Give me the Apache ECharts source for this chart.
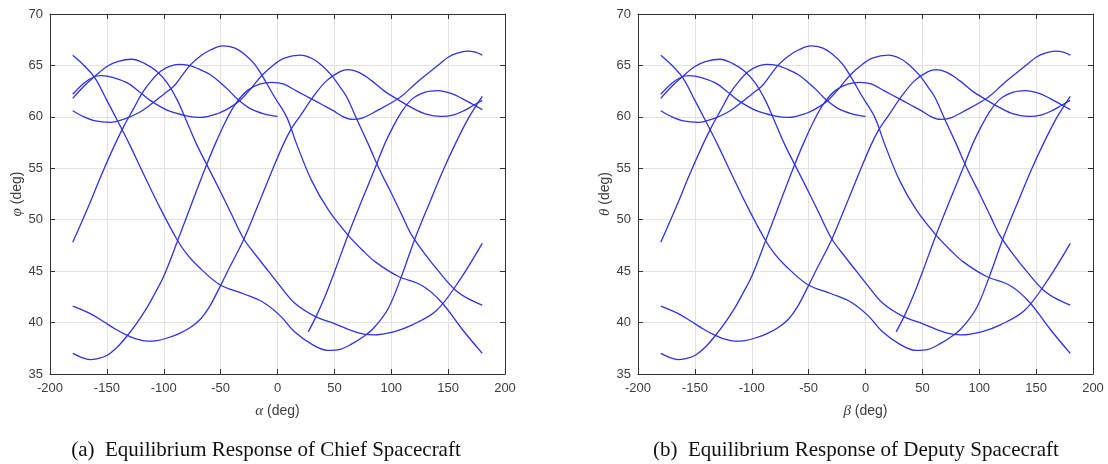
<!DOCTYPE html>
<html>
<head>
<meta charset="utf-8">
<script src="https://cdn.jsdelivr.net/npm/echarts@6.0.0/dist/echarts.min.js"></script>
<style>
html,body{margin:0;padding:0;background:#fff;}
#chart{width:1108px;height:464px;}
</style>
</head>
<body>
<div id="chart"></div>
<script>
// ---- data (angle in deg, response in deg) ----
const xRange = [-200, 200];
const xStep = 50;
const yRange = [35, 70];
const yStep = 5;

const curveA = [[-180,66.0],[-170,65.0],[-160,63.7],[-150,61.6],[-141,59.7],[-130,57.3],[-118,54.5],[-103,51.1],[-88,48.0],[-80,46.7],[-71,45.6],[-51,43.7],[-30,42.8],[-13,42.0],[2,40.7],[15,39.1],[30,37.9],[44,37.3],[55,37.4],[65,37.9],[75,38.6],[84,39.4],[97,41.3],[108,44.2],[121,48.2],[135,52.0],[146,54.9],[156,57.3],[168,59.9],[180,62.0]];
const curveB = [[-180,61.8],[-170,63.0],[-160,64.0],[-150,64.9],[-140,65.4],[-128,65.6],[-117,65.2],[-106,64.4],[-97,63.3],[-88,61.6],[-80,59.6],[-71,57.3],[-55,53.8],[-42,50.9],[-30,48.2],[-18,46.4],[-8,45.0],[2,43.6],[15,41.9],[33,40.6],[50,39.9],[71,39.0],[84,38.8],[102,39.1],[119,39.8],[140,41.2],[160,44.1],[180,47.7]];
const curveC = [[-180,62.2],[-170,63.3],[-162,63.85],[-155,64.0],[-145,63.85],[-132,63.3],[-122,62.5],[-112,61.6],[-96,60.6],[-80,60.1],[-68,59.95],[-52,60.35],[-42,60.9],[-33,61.6],[-23,62.8],[-14,64.0],[-4,65.0],[6,65.7],[20,66.0],[30,65.7],[38,65.1],[47,64.1],[55,62.9],[61,61.9],[70,59.7],[80,57.3],[90,54.8],[100,52.6],[110,50.3],[118,48.5],[130,46.6],[143,44.8],[156,43.2],[168,42.3],[180,41.7]];
const curveD = [[-180,60.6],[-170,60.0],[-160,59.6],[-147,59.47],[-133,59.86],[-122,60.4],[-112,61.15],[-100,62.2],[-91,63.0],[-84,64.0],[-77,65.0],[-68,65.9],[-59,66.5],[-48,66.9],[-38,66.7],[-28,66.0],[-20,65.1],[-14,64.1],[-3,62.0],[8,60.0],[17,57.3],[30,53.8],[45,50.9],[62,48.5],[75,47.0],[86,45.9],[106,44.5],[127,43.6],[144,42.0],[162,39.4],[180,37.0]];
const curveE = [[-180,47.8],[-165,51.6],[-155,54.3],[-143,57.3],[-135,59.1],[-127,60.7],[-119,62.3],[-111,63.5],[-103,64.4],[-95,64.9],[-87,65.1],[-78,65.0],[-68,64.6],[-59,64.1],[-51,63.4],[-43,62.6],[-36,61.8],[-24,60.8],[-12,60.3],[0,60.05]];
const curveF = [[-180,41.6],[-165,40.9],[-153,40.1],[-143,39.4],[-133,38.8],[-124,38.4],[-115,38.2],[-106,38.25],[-97,38.5],[-87,38.9],[-77,39.5],[-68,40.3],[-60,41.5],[-51,43.4],[-42,45.4],[-30,48.0],[-15,52.0],[-5,54.7],[5,57.3],[12,58.8],[20,60.1],[31,61.9],[43,63.5],[55,64.4],[62,64.6],[72,64.3],[83,63.5],[94,62.5],[107,61.6],[118,60.9],[130,60.3],[144,60.05],[155,60.2],[164,60.6],[172,61.1],[180,61.6]];
const curveG = [[-180,37.0],[-172,36.6],[-165,36.4],[-158,36.5],[-150,36.8],[-141,37.6],[-133,38.6],[-124,39.9],[-115,41.4],[-108,42.8],[-100,44.5],[-88,47.9],[-75,51.7],[-65,54.6],[-55,57.3],[-45,59.7],[-36,61.4],[-26,62.6],[-15,63.2],[-5,63.35],[5,63.2],[17,62.5],[29,61.8],[39,61.2],[49,60.6],[58,60.0],[66,59.75],[75,59.9],[89,60.7],[99,61.3],[109,62.0],[121,63.2],[133,64.3],[142,65.1],[150,65.8],[158,66.2],[167,66.4],[174,66.3],[180,66.0]];
const curveH = [[27,39.1],[34,40.6],[42,42.6],[50,44.9],[62,48.5],[75,52.1],[85,54.8],[94,57.3],[101,58.9],[108,60.3],[118,61.7],[130,62.4],[141,62.55],[152,62.3],[162,61.8],[172,61.2],[180,60.7]];

const chiefCurves = [curveA, curveB, curveC, curveD, curveE, curveF, curveG, curveH];
const deputyCurves = [curveA, curveB, curveC, curveD, curveE, curveF, curveG, curveH];

const panels = [
  {xName: 'α', yName: 'φ', caption: '(a)  Equilibrium Response of Chief Spacecraft', curves: chiefCurves},
  {xName: 'β', yName: 'θ', caption: '(b)  Equilibrium Response of Deputy Spacecraft', curves: deputyCurves}
];

// ---- styling / layout ----
const axisColor = '#333333';
const labelColor = '#3d3d3d';
const gridColor = '#e2e2e2';
const lineColor = '#3232e0';
const sans = "'Liberation Sans', Arial, sans-serif";
const serif = "'Liberation Serif', 'Times New Roman', serif";
const grids = [
  {left: 50, top: 14, width: 455, height: 360},
  {left: 638, top: 14, width: 455, height: 360}
];
const captionX = [266, 856];

const xAxes = [], yAxes = [], series = [], graphics = [];
panels.forEach((p, i) => {
  const nameStyle = {
    color: labelColor, fontFamily: sans, fontSize: 14,
    rich: {g: {fontFamily: serif, fontStyle: 'italic', fontSize: 15, color: labelColor}}
  };
  const common = {
    gridIndex: i, type: 'value', interval: xStep, min: xRange[0], max: xRange[1],
    axisLine: {show: true, onZero: false, lineStyle: {color: axisColor, width: 1}},
    axisTick: {show: true, inside: true, length: 5, lineStyle: {color: axisColor}}
  };
  xAxes.push(Object.assign({}, common, {
    position: 'bottom',
    name: '{g|' + p.xName + '} (deg)', nameLocation: 'middle', nameGap: 30,
    nameTextStyle: nameStyle,
    axisLabel: {color: labelColor, fontFamily: sans, fontSize: 13, margin: 8},
    splitLine: {show: true, lineStyle: {color: gridColor, width: 1}}
  }));
  xAxes.push(Object.assign({}, common, {
    position: 'top', axisLabel: {show: false}, splitLine: {show: false}
  }));
  const ycommon = {
    gridIndex: i, type: 'value', interval: yStep, min: yRange[0], max: yRange[1],
    axisLine: {show: true, onZero: false, lineStyle: {color: axisColor, width: 1}},
    axisTick: {show: true, inside: true, length: 5, lineStyle: {color: axisColor}}
  };
  yAxes.push(Object.assign({}, ycommon, {
    position: 'left',
    name: '{g|' + p.yName + '} (deg)', nameLocation: 'middle', nameGap: 22,
    nameTextStyle: nameStyle,
    axisLabel: {color: labelColor, fontFamily: sans, fontSize: 13, margin: 7},
    splitLine: {show: true, lineStyle: {color: gridColor, width: 1}}
  }));
  yAxes.push(Object.assign({}, ycommon, {
    position: 'right', axisLabel: {show: false}, splitLine: {show: false}
  }));
  p.curves.forEach(c => {
    series.push({
      type: 'line', xAxisIndex: i * 2, yAxisIndex: i * 2, data: c,
      showSymbol: false, smooth: 0.35,
      lineStyle: {color: lineColor, width: 1.3}, silent: true
    });
  });
  graphics.push({
    type: 'text', x: captionX[i], y: 450,
    style: {text: p.caption, font: '21px ' + serif, fill: '#111', textAlign: 'center', textVerticalAlign: 'middle'}
  });
});

const chart = echarts.init(document.getElementById('chart'), null, {renderer: 'canvas'});
chart.setOption({
  animation: false,
  backgroundColor: '#fff',
  grid: grids,
  xAxis: xAxes,
  yAxis: yAxes,
  series: series,
  graphic: graphics
});
</script>
</body>
</html>
